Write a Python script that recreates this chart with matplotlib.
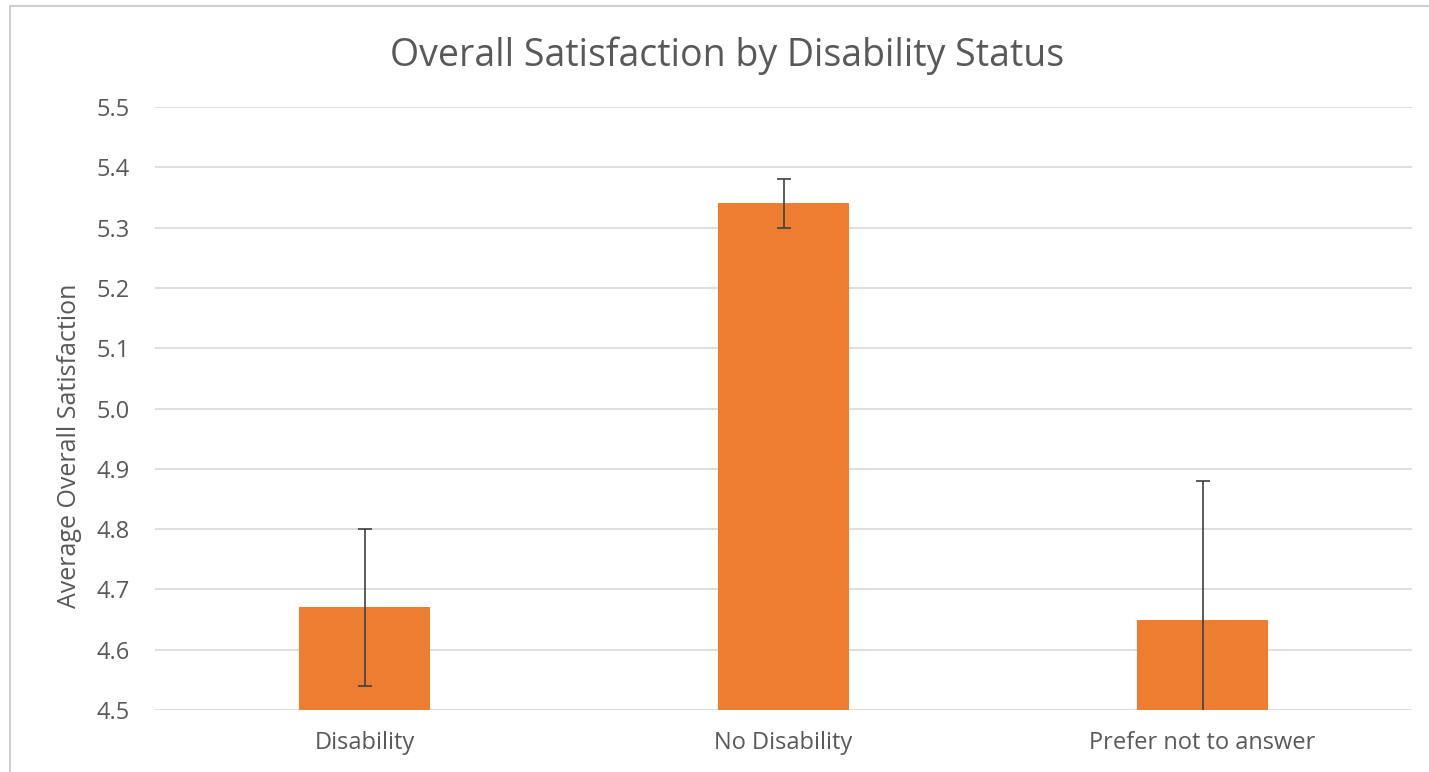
import matplotlib.pyplot as plt
import numpy as np
from matplotlib.patches import Rectangle

# Data
categories = ['Disability', 'No Disability', 'Prefer not to answer']
means = [4.67, 5.34, 4.65]
errors = [0.13, 0.04, 0.23]

plt.rcParams['font.family'] = ['Open Sans', 'DejaVu Sans']

fig = plt.figure(figsize=(14.29, 7.72), dpi=100)
ax = fig.add_axes([0.1085, 0.0803, 0.8796, 0.7811])

x = np.arange(len(categories))
ax.bar(x, np.array(means) - 4.5, bottom=4.5, width=0.313, color='#ED7D31', zorder=2)
ax.errorbar(x, means, yerr=errors, fmt='none', ecolor='#404040',
            elinewidth=1.2, capsize=5, capthick=1.2, zorder=3)

ax.set_xlim(-0.5, 2.5)
ax.set_ylim(4.5, 5.5)
ax.set_yticks(np.arange(4.5, 5.51, 0.1))
ax.set_yticklabels(['%.1f' % v for v in np.arange(4.5, 5.51, 0.1)])
ax.set_xticks(x)
ax.set_xticklabels(categories)
ax.yaxis.grid(True, color='#d9d9d9', linewidth=1.2, zorder=0)
ax.set_axisbelow(True)
for s in ax.spines.values():
    s.set_visible(False)
ax.tick_params(axis='both', length=0, labelsize=17, labelcolor='#595959')
ax.tick_params(axis='y', pad=18)
ax.tick_params(axis='x', pad=15)
ax.set_ylabel('Average Overall Satisfaction', fontsize=18, color='#595959')
ax.yaxis.set_label_coords(-0.058, 0.438)

fig.text(0.509, 0.928, 'Overall Satisfaction by Disability Status',
         ha='center', va='center', fontsize=27, color='#595959')

# chart frame
fig.add_artist(Rectangle((0.007, -0.1), 1.1, 1.092, transform=fig.transFigure,
                         fill=False, edgecolor='#d0d0d0', linewidth=1.5))

fig.savefig('out.png', dpi=100)
